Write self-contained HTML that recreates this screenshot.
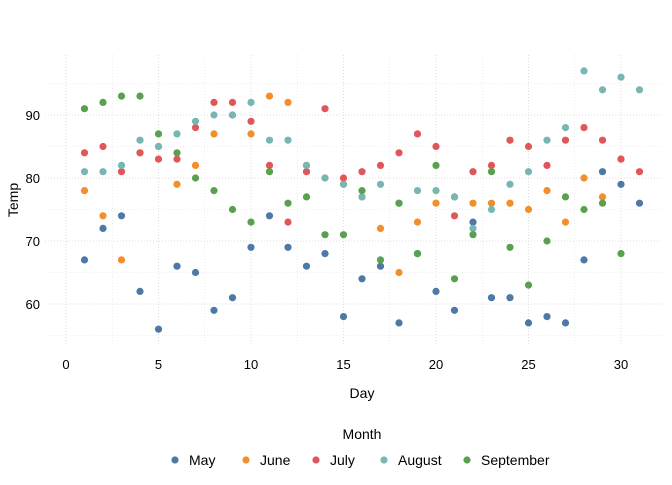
<!DOCTYPE html>
<html><head><meta charset="utf-8"><style>
body{margin:0;background:#fff;font-family:"Liberation Sans",sans-serif;}
</style></head><body>
<svg id="chart" width="672" height="480" xmlns="http://www.w3.org/2000/svg" font-family="Liberation Sans, sans-serif">
<g id="grid"></g>
<g id="points"></g>
<g id="axes"></g>
<text x="362" y="398" font-size="14" text-anchor="middle" fill="#000">Day</text>
<text transform="translate(18,200) rotate(-90)" font-size="14" text-anchor="middle" fill="#000">Temp</text>
<text x="362" y="439" font-size="14" text-anchor="middle" fill="#000">Month</text>
<g id="legend"></g>
</svg>
<script>
const months = ["May","June","July","August","September"];
const colors = ["#4E79A7","#F28E2B","#E15759","#76B7B2","#59A14F"];
const tempMay = [67,72,74,62,56,66,65,59,61,69,74,69,66,68,58,64,66,57,68,62,59,73,61,61,57,58,57,67,81,79,76];
const tempJune = [78,74,67,84,85,79,82,87,90,87,93,92,82,80,79,77,72,65,73,76,77,76,76,76,75,78,73,80,77,83];
const tempJuly = [84,85,81,84,83,83,88,92,92,89,82,73,81,91,80,81,82,84,87,85,74,81,82,86,85,82,86,88,86,83,81];
const tempAugust = [81,81,82,86,85,87,89,90,90,92,86,86,82,80,79,77,79,76,78,78,77,72,75,79,81,86,88,97,94,96,94];
const tempSeptember = [91,92,93,93,87,84,80,78,75,73,81,76,77,71,71,78,67,76,68,82,64,71,81,69,63,70,77,75,76,68];
const series = [tempMay,tempJune,tempJuly,tempAugust,tempSeptember];
const xTicks = [0,5,10,15,20,25,30];
const yTicks = [60,70,80,90];
const NS="http://www.w3.org/2000/svg";
const X0=45,X1=663,Y0=55,Y1=345;
const xs=d=>66+(d/5)*92.5;
const ys=v=>304-(v-60)*6.3;
function mk(tag,attrs,parent){const e=document.createElementNS(NS,tag);for(const k in attrs)e.setAttribute(k,attrs[k]);parent.appendChild(e);return e;}
const grid=document.getElementById('grid'),pts=document.getElementById('points'),axes=document.getElementById('axes'),leg=document.getElementById('legend');
const minor=[2.5,7.5,12.5,17.5,22.5,27.5];
xTicks.concat(minor).forEach(t=>{const l=mk('line',{x1:xs(t),x2:xs(t),y1:Y0,y2:Y1,stroke:'#ddd','stroke-dasharray':'1,2','stroke-width':t%5==0?1:0.6},grid);

});
[55,65,75,85,95].concat(yTicks).forEach(t=>{const l=mk('line',{x1:X0,x2:X1,y1:ys(t),y2:ys(t),stroke:'#ddd','stroke-dasharray':'1,2','stroke-width':t%10==0?1:0.6},grid);

});
xTicks.forEach(t=>{const e=mk('text',{x:xs(t),y:369,'font-size':13,'text-anchor':'middle',fill:'#000'},axes);e.textContent=t;

});
yTicks.forEach(t=>{const e=mk('text',{x:40,y:ys(t)+5,'font-size':13,'text-anchor':'end',fill:'#000'},axes);e.textContent=t;

});
series.forEach((s,i)=>s.forEach((v,j)=>{const c=mk('circle',{cx:xs(j+1),cy:ys(v),r:3.6,fill:colors[i]},pts);

}));
const lx=[175,246,316,384,467];
months.forEach((m,i)=>{const c=mk('circle',{cx:lx[i],cy:460,r:3.6,fill:colors[i]},leg);


const t=mk('text',{x:lx[i]+14,y:465,'font-size':14,fill:'#000'},leg);t.textContent=m;

});
</script>
</body></html>
